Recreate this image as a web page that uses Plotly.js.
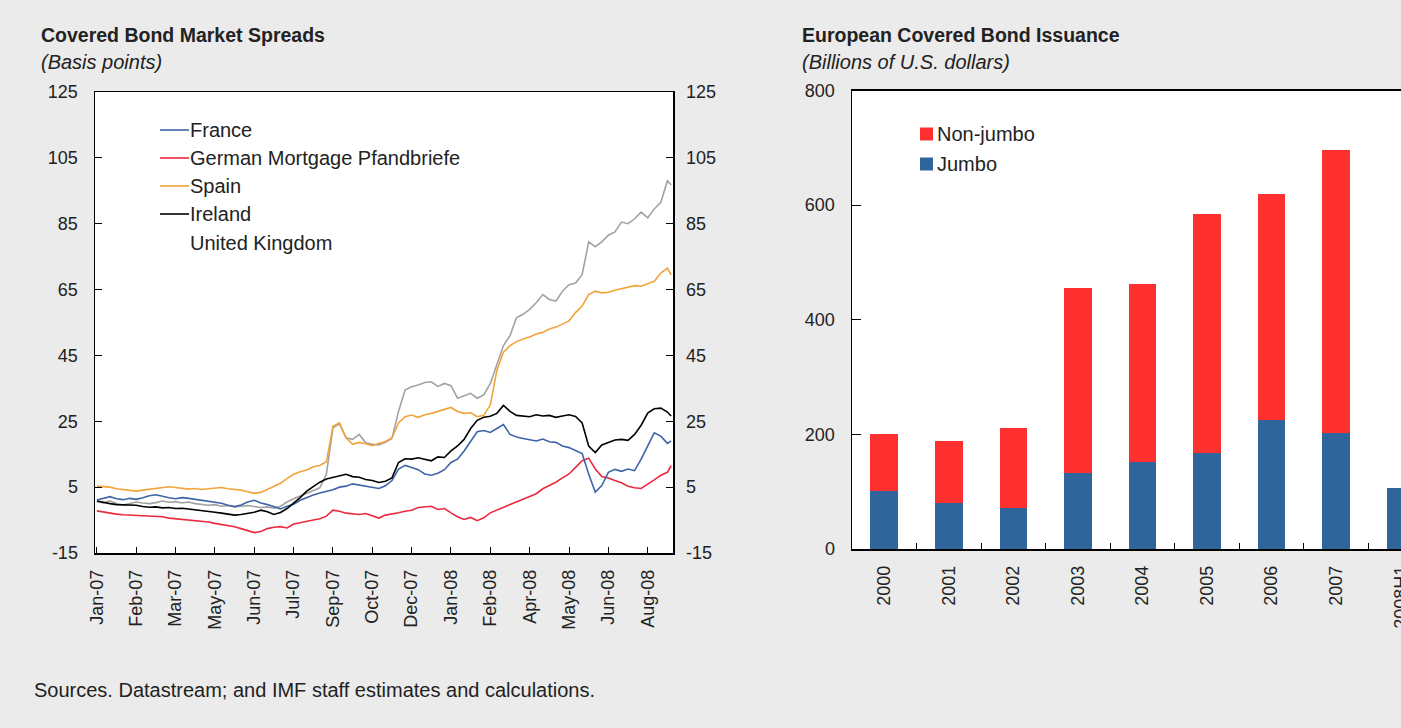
<!DOCTYPE html>
<html>
<head>
<meta charset="utf-8">
<script src="https://cdn.plot.ly/plotly-3.0.1.min.js"></script>
<style>
html,body{margin:0;padding:0;overflow:hidden;background:#ebebeb}
#chart{width:1450px;height:728px}
</style>
</head>
<body>
<div id="chart"></div>
<script>
// ---------- Left chart data: Covered bond market spreads (basis points), weekly readings ----------
const dates = ['2007-01-01','2007-01-08','2007-01-15','2007-01-22','2007-01-29','2007-02-05','2007-02-12','2007-02-19','2007-02-26','2007-03-05','2007-03-12','2007-03-19','2007-03-26','2007-04-02','2007-04-09','2007-04-16','2007-04-23','2007-04-30','2007-05-07','2007-05-14','2007-05-21','2007-05-28','2007-06-04','2007-06-11','2007-06-18','2007-06-25','2007-07-02','2007-07-09','2007-07-16','2007-07-23','2007-07-30','2007-08-06','2007-08-13','2007-08-20','2007-08-27','2007-09-03','2007-09-10','2007-09-17','2007-09-24','2007-10-01','2007-10-08','2007-10-15','2007-10-22','2007-10-29','2007-11-05','2007-11-12','2007-11-19','2007-11-26','2007-12-03','2007-12-10','2007-12-17','2007-12-24','2007-12-31','2008-01-07','2008-01-14','2008-01-21','2008-01-28','2008-02-04','2008-02-11','2008-02-18','2008-02-25','2008-03-03','2008-03-10','2008-03-17','2008-03-24','2008-03-31','2008-04-07','2008-04-14','2008-04-21','2008-04-28','2008-05-05','2008-05-12','2008-05-19','2008-05-26','2008-06-02','2008-06-09','2008-06-16','2008-06-23','2008-06-30','2008-07-07','2008-07-14','2008-07-21','2008-07-28','2008-08-04','2008-08-11','2008-08-18','2008-08-25','2008-09-01','2008-09-05'];

const france = [1.1,1.6,2.1,1.5,1.2,1.6,1.3,1.8,2.4,2.7, 2.2,1.8,1.5,1.8,1.6,1.3,1.1,0.6,0.4,0.1, -0.5,-0.9,-0.4,0.5,1.0,0.2,-0.3,-0.9,-1.6,-0.8, -0.2,1.0,1.9,2.6,3.2,3.6,4.2,5.0,5.3,6.0, 5.6,5.3,4.8,4.6,5.4,7.0,10.5,11.6,11.0,10.3, 9.0,8.6,9.2,10.3,12.5,13.5,16.0,19.0,21.8,22.2, 21.6,22.8,24.0,21.0,20.2,19.8,19.5,19.0,19.6,18.8, 18.6,17.5,17.0,16.2,15.2,9.0,3.5,5.5,9.5,10.4, 9.8,10.5,10.0,13.5,17.5,21.5,20.5,18.3,19.0];

const german = [-2.2,-2.6,-2.9,-3.2,-3.4,-3.5,-3.7,-3.8,-4.0,-4.1, -4.0,-4.4,-4.6,-4.8,-5.0,-5.2,-5.3,-5.6,-6.0,-6.3, -6.5,-7.0,-7.6,-8.2,-8.8,-8.5,-7.6,-7.2,-7.0,-7.4, -6.2,-5.8,-5.5,-5.0,-4.6,-3.8,-2.0,-2.3,-2.9,-3.1, -3.3,-3.0,-3.8,-4.4,-3.5,-3.2,-2.8,-2.3,-2.0,-1.2, -0.9,-0.8,-1.8,-1.5,-2.8,-4.0,-4.8,-4.2,-5.2,-4.3, -2.8,-2.0,-1.0,-0.3,0.6,1.2,2.2,3.0,4.5,5.5, 6.5,7.8,9.0,11.0,13.0,13.8,10.5,8.2,7.8,7.0, 6.3,5.3,4.8,4.6,5.8,7.2,8.6,9.5,11.5];

const spain = [5.3,5.1,5.0,4.5,4.2,4.0,3.8,4.1,4.3,4.7, 4.8,5.1,4.9,4.6,4.4,4.6,4.3,4.5,4.8,4.9, 4.5,4.3,4.1,3.6,3.1,3.4,4.3,5.2,6.2,7.6, 8.9,9.7,10.2,11.2,11.6,12.7,23.5,24.5,20.0,18.0, 18.6,18.2,17.6,18.3,18.8,20.0,24.5,26.4,26.9,26.2, 27.0,27.4,28.0,28.6,29.2,28.0,27.4,27.6,26.4,26.8, 30.0,40.5,46.0,48.0,49.2,50.0,50.6,51.5,52.0,53.0, 53.6,54.5,55.5,58.0,60.0,63.5,64.5,64.0,64.2,64.8, 65.2,65.6,66.2,66.0,66.8,67.5,70.0,71.5,69.5];

const ireland = [0.8,0.3,0.0,-0.3,-0.4,-0.6,-0.5,-0.9,-1.1,-1.0, -1.3,-1.2,-1.5,-1.4,-1.6,-1.8,-2.0,-2.3,-2.6,-2.9, -3.2,-3.5,-3.3,-3.0,-2.6,-2.0,-2.5,-3.3,-2.7,-1.5, 0.2,1.8,3.8,5.2,6.5,7.5,8.0,8.6,8.9,8.2, 8.0,7.3,7.0,6.4,6.8,7.8,12.5,13.6,13.5,13.9, 13.4,13.0,14.2,14.0,16.0,17.5,19.5,22.8,25.3,26.2, 26.5,27.4,29.8,28.0,26.8,26.5,26.4,27.0,26.6,26.8, 26.2,26.6,27.0,26.5,24.5,17.5,15.5,17.8,18.6,19.3, 19.5,19.2,21.0,23.8,27.5,28.8,29.0,27.8,26.6];

const uk = [0.6,0.2,0.8,0.0,-0.4,0.0,0.5,0.2,0.0,0.3, 0.8,0.4,0.6,0.2,0.5,0.0,-0.3,-0.5,-0.3,-0.8, -0.6,-1.0,-0.8,-0.6,-0.9,-1.2,-1.0,-1.4,-0.8,0.5, 1.5,2.3,3.1,4.0,4.8,9.0,23.0,24.2,20.0,19.5, 21.0,18.5,18.0,17.8,18.6,19.8,28.0,34.5,35.5,36.0, 36.8,37.0,35.6,36.5,35.8,32.0,32.8,33.5,32.0,33.0, 36.5,42.5,48.0,51.0,56.5,57.5,59.0,61.0,63.5,62.0, 61.5,64.5,66.5,67.0,69.5,79.5,78.0,79.5,81.5,82.5, 85.5,85.0,86.5,88.5,86.8,89.5,91.5,98.0,96.8];

const seriesNames = ['France','German Mortgage Pfandbriefe','Spain','Ireland','United Kingdom'];
const spreadTickVals = [-15, 5, 25, 45, 65, 85, 105, 125];
const spreadTickText = ['-15', '5', '25', '45', '65', '85', '105', '125'];

// ---------- Right chart data: European covered bond issuance (billions of U.S. dollars) ----------
const years = ['2000','2001','2002','2003','2004','2005','2006','2007','2008H1'];
const jumbo = [102, 81, 72, 133, 152, 167, 225, 203, 106];
const nonJumbo = [98, 108, 139, 322, 310, 417, 394, 493, 0];
const barNames = ['Non-jumbo','Jumbo'];

// ---------- Styling / layout ----------
const W = 1450, H = 728;
const px = x => x / W;
const py = y => 1 - y / H;
const FONT = 'Liberation Sans, Arial, sans-serif';
const TXT = '#222';
const colFrance = '#3d64a6', colGerman = '#ec2a3e', colSpain = '#f2a33a', colIreland = '#000000', colUK = '#a2a2a2';
const colNon = '#ff3030', colJumbo = '#30659b';

const traces = [
  {x: dates, y: uk, type: 'scatter', mode: 'lines', name: seriesNames[4], line: {color: colUK, width: 1.6}, xaxis: 'x', yaxis: 'y'},
  {x: dates, y: spain, type: 'scatter', mode: 'lines', name: seriesNames[2], line: {color: colSpain, width: 1.6}, xaxis: 'x', yaxis: 'y'},
  {x: dates, y: german, type: 'scatter', mode: 'lines', name: seriesNames[1], line: {color: colGerman, width: 1.6}, xaxis: 'x', yaxis: 'y'},
  {x: dates, y: france, type: 'scatter', mode: 'lines', name: seriesNames[0], line: {color: colFrance, width: 1.6}, xaxis: 'x', yaxis: 'y'},
  {x: dates, y: ireland, type: 'scatter', mode: 'lines', name: seriesNames[3], line: {color: colIreland, width: 1.6}, xaxis: 'x', yaxis: 'y2'},
  {x: years, y: jumbo, type: 'bar', name: barNames[1], marker: {color: colJumbo}, xaxis: 'x2', yaxis: 'y3'},
  {x: years, y: nonJumbo, type: 'bar', name: barNames[0], marker: {color: colNon}, xaxis: 'x2', yaxis: 'y3'}
];

const tickCommon = {ticks: 'inside', tickcolor: '#000', showgrid: false, zeroline: false, showline: true, linecolor: '#000', linewidth: 1.5};

const layout = {
  width: W, height: H,
  margin: {l: 0, r: 0, t: 0, b: 0},
  paper_bgcolor: '#ebebeb', plot_bgcolor: '#ffffff',
  showlegend: false,
  barmode: 'stack', bargap: 0.57,
  font: {family: FONT, color: TXT, size: 18},
  xaxis: Object.assign({}, tickCommon, {
    type: 'date', domain: [px(95), px(673)], anchor: 'y',
    range: ['2006-12-30', '2008-09-07'],
    tick0: '2007-01-01', dtick: 42 * 86400000, tickformat: '%b-%y',
    tickangle: -90, ticklen: 6, mirror: true, ticklabelstandoff: 8,
    tickfont: {size: 18, color: TXT, family: FONT}
  }),
  yaxis: Object.assign({}, tickCommon, {
    domain: [py(553), py(92)], anchor: 'x',
    range: [-15, 125], tickmode: 'array', tickvals: spreadTickVals, ticktext: spreadTickText,
    ticklen: 7, mirror: true, ticklabelstandoff: 12,
    tickfont: {size: 18, color: TXT, family: FONT}
  }),
  yaxis2: Object.assign({}, tickCommon, {
    overlaying: 'y', side: 'right', anchor: 'x',
    range: [-15, 125], tickmode: 'array', tickvals: spreadTickVals, ticktext: spreadTickText,
    ticklen: 7, showline: false, ticklabelstandoff: 12,
    tickfont: {size: 18, color: TXT, family: FONT}
  }),
  xaxis2: Object.assign({}, tickCommon, {
    type: 'category', domain: [px(852), px(1433)], anchor: 'y3',
    tickson: 'boundaries', ticklen: 6, tickangle: -90, mirror: true,
    ticklabelstandoff: 8,
    tickfont: {size: 18, color: TXT, family: FONT}
  }),
  yaxis3: Object.assign({}, tickCommon, {
    domain: [py(549), py(90.5)], anchor: 'x2',
    range: [0, 800], dtick: 200, ticklen: 9, mirror: true,
    ticklabelstandoff: 12,
    tickfont: {size: 18, color: TXT, family: FONT}
  }),
  annotations: [],
  shapes: []
};

function note(text, x, y, opts) {
  layout.annotations.push(Object.assign({
    text: text, xref: 'paper', yref: 'paper', x: px(x), y: py(y),
    xanchor: 'left', yanchor: 'middle', showarrow: false,
    font: {family: FONT, size: 20, color: TXT}
  }, opts || {}));
}

// Titles
note('<b>Covered Bond Market Spreads</b>', 39, 35, {font: {family: FONT, size: 19.5, color: TXT}});
note('<i>(Basis points)</i>', 39, 62, {font: {family: FONT, size: 20, color: TXT}});
note('<b>European Covered Bond Issuance</b>', 800, 35, {font: {family: FONT, size: 19.5, color: TXT}});
note('<i>(Billions of U.S. dollars)</i>', 800, 62, {font: {family: FONT, size: 20, color: TXT}});
note('Sources. Datastream; and IMF staff estimates and calculations.', 32, 690, {font: {family: FONT, size: 20, color: TXT}});

// Left legend (manual)
const legendRows = [
  {name: seriesNames[0], color: colFrance, y: 130},
  {name: seriesNames[1], color: colGerman, y: 158},
  {name: seriesNames[2], color: colSpain, y: 186},
  {name: seriesNames[3], color: colIreland, y: 214},
  {name: seriesNames[4], color: null, y: 243}
];
legendRows.forEach(r => {
  if (r.color) {
    layout.shapes.push({type: 'line', xref: 'paper', yref: 'paper', x0: px(160), x1: px(189), y0: py(r.y), y1: py(r.y), line: {color: r.color, width: 1.6}});
  }
  note(r.name, 188, r.y);
});

// Right legend (manual)
[{name: barNames[0], color: colNon, y: 134}, {name: barNames[1], color: colJumbo, y: 164}].forEach(r => {
  layout.shapes.push({type: 'rect', xref: 'paper', yref: 'paper', x0: px(920), x1: px(933), y0: py(r.y + 6.5), y1: py(r.y - 6.5), line: {width: 0}, fillcolor: r.color});
  note(r.name, 935, r.y);
});

Plotly.newPlot('chart', traces, layout, {staticPlot: true, displayModeBar: false});
</script>
</body>
</html>
